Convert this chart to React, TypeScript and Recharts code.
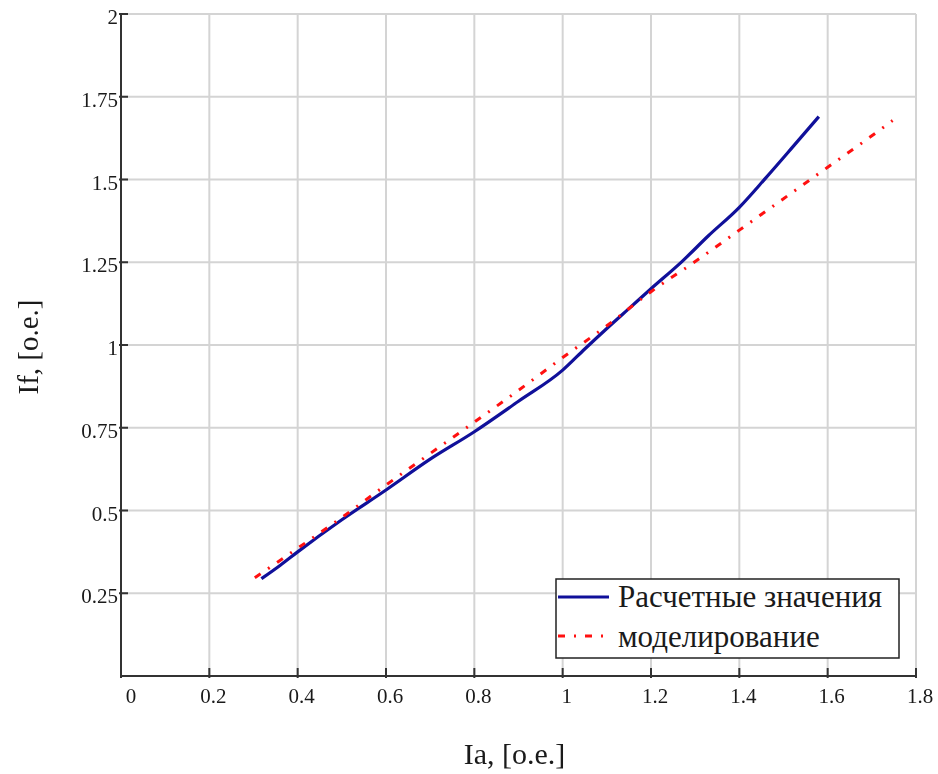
import { CartesianGrid, Label, Line, LineChart, XAxis, YAxis } from "recharts";

// Ia, [о.е.] -> If, [о.е.]
const calcIa = [0.318, 0.36, 0.4, 0.5, 0.6, 0.7, 0.8, 0.9, 1.0, 1.05, 1.1, 1.15, 1.2, 1.27, 1.33, 1.4, 1.46, 1.52, 1.58];
const calcIf = [0.294, 0.334, 0.375, 0.472, 0.562, 0.655, 0.738, 0.83, 0.924, 0.988, 1.05, 1.11, 1.17, 1.252, 1.33, 1.416, 1.505, 1.597, 1.69];

const modelIa = [0.303, 0.4, 0.5, 0.6, 0.7, 0.8, 0.9, 1.0, 1.1, 1.2, 1.3, 1.4, 1.5, 1.6, 1.7, 1.747];
const modelIf = [0.297, 0.386, 0.479, 0.577, 0.672, 0.767, 0.863, 0.962, 1.058, 1.161, 1.252, 1.347, 1.442, 1.537, 1.632, 1.678];

const xTicks = [0, 0.2, 0.4, 0.6, 0.8, 1, 1.2, 1.4, 1.6, 1.8];
const yTicks = [0, 0.25, 0.5, 0.75, 1, 1.25, 1.5, 1.75, 2];

const SERIES_NAMES = ["Расчетные значения", "моделирование"];
const X_TITLE = "Ia, [о.е.]";
const Y_TITLE = "If, [о.е.]";

const FONT = '"Liberation Serif", "Times New Roman", serif';
const BLUE = "#10109a";
const RED = "#ff1010";
const DASH = "7 9 2 9";

const calcData = calcIa.map((ia, i) => ({ Ia: ia, If: calcIf[i] }));
const modelData = modelIa.map((ia, i) => ({ Ia: ia, If: modelIf[i] }));

function XTick({ x, y, payload }: any) {
  const shift = payload.value === 0 ? 10 : 4;
  return (
    <g>
      <line x1={x} x2={x} y1={y - 8} y2={y + 2} stroke="#333" strokeWidth={2} />
      <text x={x + shift} y={y + 27} textAnchor="middle" fontFamily={FONT} fontSize={21} fill="#1a1a1a">
        {payload.value}
      </text>
    </g>
  );
}

function YTick({ x, y, payload }: any) {
  if (payload.value === 0) return null;
  return (
    <g>
      <line x1={x - 2} x2={x + 7} y1={y} y2={y} stroke="#333" strokeWidth={2} />
      <text x={x - 3} y={y + 10} textAnchor="end" fontFamily={FONT} fontSize={21} fill="#1a1a1a">
        {payload.value}
      </text>
    </g>
  );
}

function ChartLegend() {
  return (
    <svg width={346} height={82} style={{ position: "absolute", left: 555, top: 578 }}>
      <rect x={1} y={1} width={343} height={79} fill="#fff" stroke="#222" strokeWidth={1.5} />
      <line x1={3} x2={54} y1={19} y2={19} stroke={BLUE} strokeWidth={3.2} />
      <line x1={3} x2={54} y1={58} y2={58} stroke={RED} strokeWidth={3} strokeDasharray={DASH} />
      <text x={63} y={29} fontFamily={FONT} fontSize={31} fill="#1a1a1a">
        {SERIES_NAMES[0]}
      </text>
      <text x={63} y={69} fontFamily={FONT} fontSize={31} fill="#1a1a1a">
        {SERIES_NAMES[1]}
      </text>
    </svg>
  );
}

export default function App() {
  return (
    <div style={{ position: "fixed", left: 0, top: 0, width: 938, height: 774, overflow: "hidden" }}>
      <LineChart width={938} height={774} margin={{ top: 14, right: 22, left: 0, bottom: 0 }}>
        <CartesianGrid stroke="#d4d4d4" strokeWidth={2} />
        <XAxis
          dataKey="Ia"
          type="number"
          domain={[0, 1.8]}
          ticks={xTicks}
          height={98}
          tickSize={0}
          tickMargin={0}
          tickLine={false}
          tick={<XTick />}
          axisLine={{ stroke: "#333", strokeWidth: 2 }}
          interval={0}
        >
          <Label
            content={({ viewBox }: any) => (
              <text
                x={viewBox.x + viewBox.width / 2 - 4}
                y={viewBox.y + 88}
                textAnchor="middle"
                fontFamily={FONT}
                fontSize={30}
                fill="#1a1a1a"
              >
                {X_TITLE}
              </text>
            )}
          />
        </XAxis>
        <YAxis
          type="number"
          domain={[0, 2]}
          ticks={yTicks}
          width={121}
          tickSize={0}
          tickMargin={0}
          tickLine={false}
          tick={<YTick />}
          axisLine={{ stroke: "#333", strokeWidth: 2 }}
          interval={0}
        >
          <Label
            content={({ viewBox }: any) => {
              const cx = 28;
              const cy = viewBox.y + viewBox.height / 2 + 2;
              return (
                <text
                  x={cx}
                  y={cy}
                  transform={`rotate(-90, ${cx}, ${cy})`}
                  textAnchor="middle"
                  dominantBaseline="central"
                  fontFamily={FONT}
                  fontSize={29}
                  fill="#1a1a1a"
                >
                  {Y_TITLE}
                </text>
              );
            }}
          />
        </YAxis>
        <Line
          data={calcData}
          dataKey="If"
          name={SERIES_NAMES[0]}
          type="monotone"
          stroke={BLUE}
          strokeWidth={3.2}
          dot={false}
          isAnimationActive={false}
        />
        <Line
          data={modelData}
          dataKey="If"
          name={SERIES_NAMES[1]}
          type="monotone"
          stroke={RED}
          strokeWidth={3}
          strokeDasharray={DASH}
          dot={false}
          isAnimationActive={false}
        />
      </LineChart>
      <ChartLegend />
    </div>
  );
}
